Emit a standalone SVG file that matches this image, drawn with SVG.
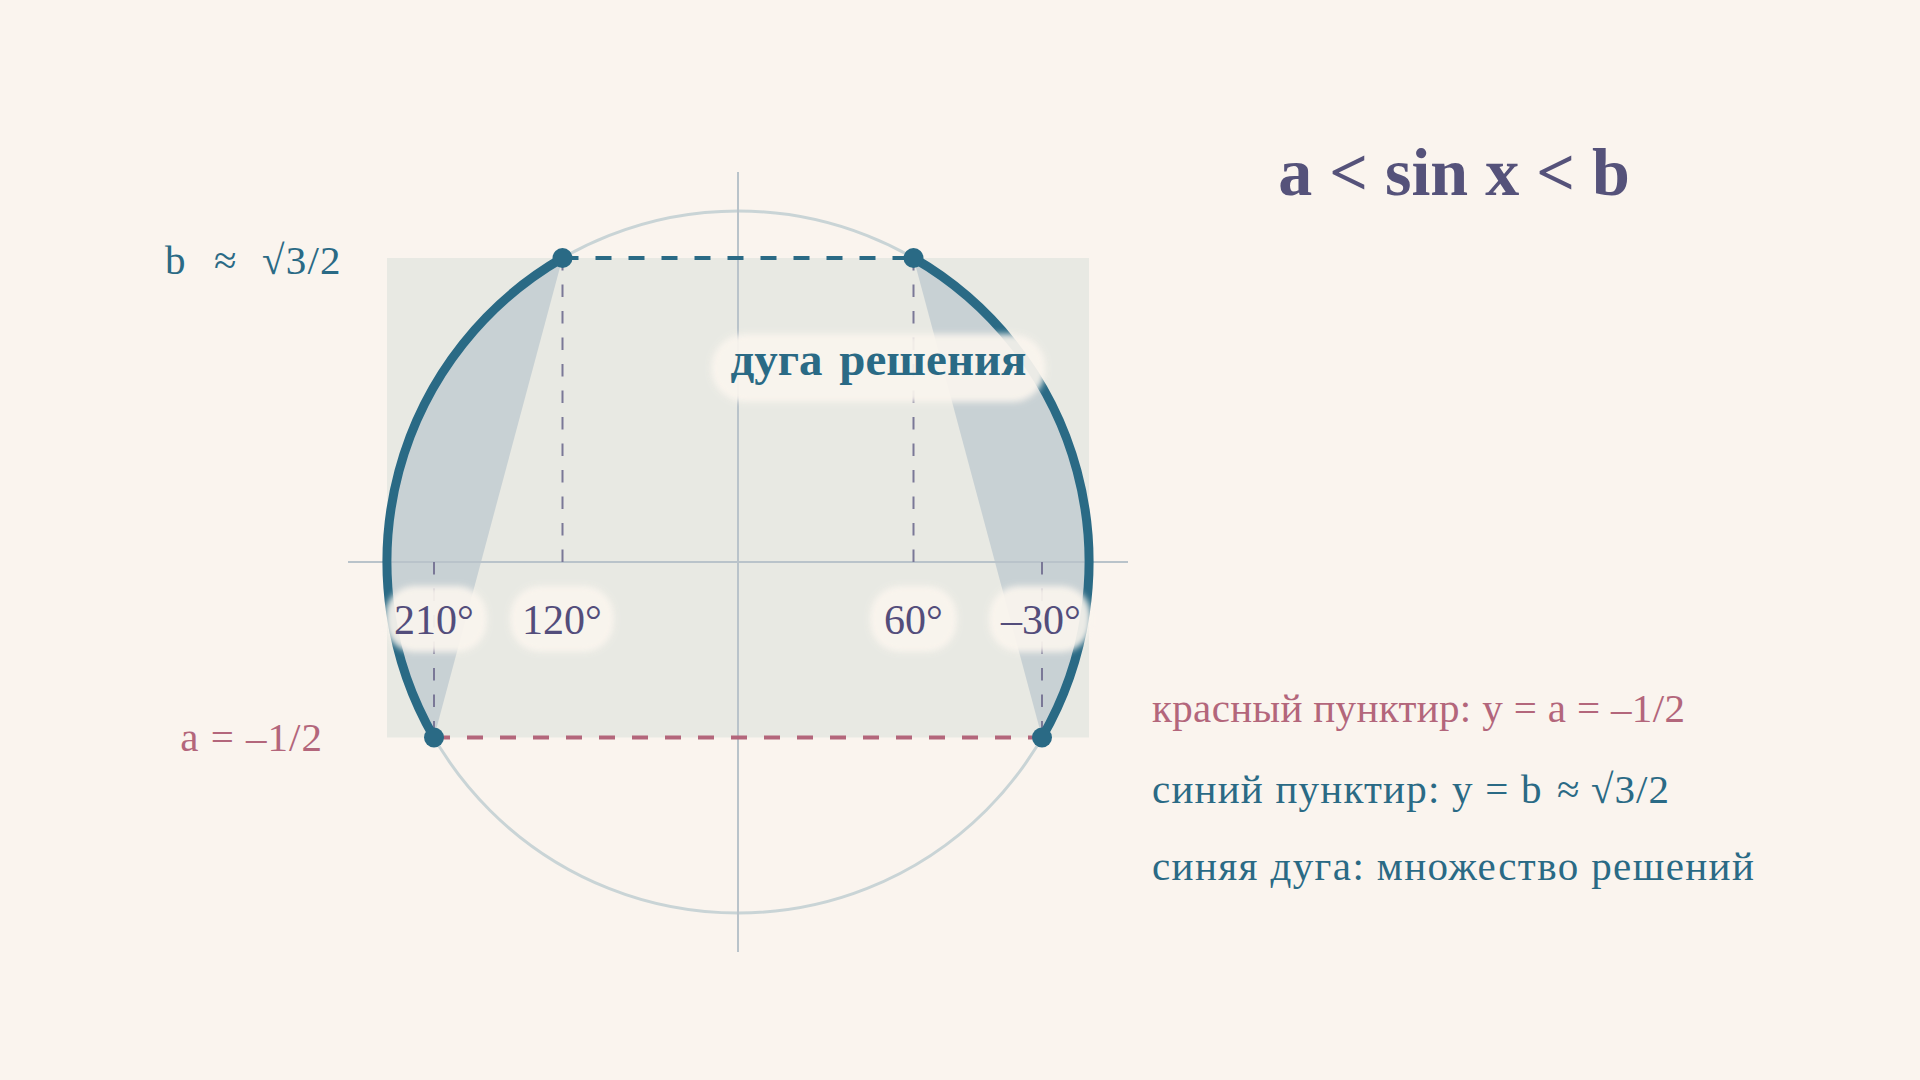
<svg xmlns="http://www.w3.org/2000/svg" width="1920" height="1080" viewBox="0 0 1920 1080">
  <style>
    .serif { font-family: "Liberation Serif", "DejaVu Serif", serif; }
    .lbl { font-family: "Liberation Serif", "DejaVu Serif", serif; font-size: 41px; }
    .deg { font-family: "Liberation Serif", "DejaVu Serif", serif; font-size: 42px; fill: #534D7B; text-anchor: middle; }
    .blue { fill: #2A6A85; }
    .red { fill: #B3667B; }
    .pill { fill: #FAF5EE; opacity: 0.93; }
    .vdash { stroke: #7A7897; stroke-width: 2; stroke-dasharray: 12.5 14; fill: none; }
    .dot { fill: #2A6A85; }
  </style>
  <defs>
    <filter id="soft" x="-20%" y="-40%" width="140%" height="180%">
      <feGaussianBlur stdDeviation="3"/>
    </filter>
  </defs>

  <rect x="0" y="0" width="1920" height="1080" fill="#FAF4EE"/>

  <g id="band">
    <rect x="387" y="258" width="702" height="479.5" fill="#E8E9E3"/>
    <path d="M 562.5 258 A 351 351 0 0 0 434 737.5 Z" fill="#C8D1D4"/>
    <path d="M 913.5 258 A 351 351 0 0 1 1042 737.5 Z" fill="#C8D1D4"/>
  </g>

  <g id="circle">
    <circle cx="738" cy="562" r="351" fill="none" stroke="#C9D4D6" stroke-width="3"/>
  </g>

  <g id="axes" stroke="#B9C3CA" stroke-width="2">
    <line x1="348" y1="562" x2="1128" y2="562"/>
    <line x1="738" y1="172" x2="738" y2="952"/>
  </g>

  <g id="connectors">
    <line class="vdash" x1="562.5" y1="258" x2="562.5" y2="562"/>
    <line class="vdash" x1="913.5" y1="258" x2="913.5" y2="562"/>
    <line class="vdash" x1="434" y1="562" x2="434" y2="737.5"/>
    <line class="vdash" x1="1042" y1="562" x2="1042" y2="737.5"/>
    <line x1="562.5" y1="258" x2="913.5" y2="258" stroke="#2A6A85" stroke-width="4" stroke-dasharray="16 17"/>
    <line x1="434" y1="737.5" x2="1042" y2="737.5" stroke="#B3667B" stroke-width="4" stroke-dasharray="16 17"/>
    <path d="M 562.5 258 A 351 351 0 0 0 434 737.5" fill="none" stroke="#2A6A85" stroke-width="9" stroke-linecap="round"/>
    <path d="M 913.5 258 A 351 351 0 0 1 1042 737.5" fill="none" stroke="#2A6A85" stroke-width="9" stroke-linecap="round"/>
  </g>

  <g id="points">
    <circle class="dot" cx="562.5" cy="258" r="10"/>
    <circle class="dot" cx="913.5" cy="258" r="10"/>
    <circle class="dot" cx="434" cy="737.5" r="10"/>
    <circle class="dot" cx="1042" cy="737.5" r="10"/>
  </g>

  <g id="label-210">
    <rect class="pill" x="385" y="586" width="102" height="66" rx="30" filter="url(#soft)"/>
    <text class="deg" x="434" y="634">210°</text>
  </g>
  <g id="label-120">
    <rect class="pill" x="510" y="586" width="104" height="66" rx="30" filter="url(#soft)"/>
    <text class="deg" x="562" y="634">120°</text>
  </g>
  <g id="label-60">
    <rect class="pill" x="870" y="586" width="87" height="66" rx="30" filter="url(#soft)"/>
    <text class="deg" x="913.5" y="634">60°</text>
  </g>
  <g id="label-m30">
    <rect class="pill" x="989" y="586" width="102" height="66" rx="30" filter="url(#soft)"/>
    <text class="deg" x="1041" y="634">–30°</text>
  </g>

  <g id="label-arc">
    <rect class="pill" x="711" y="334" width="335" height="68" rx="34" filter="url(#soft)"/>
    <text class="serif blue" x="878.5" y="375" font-size="47" font-weight="bold" text-anchor="middle" word-spacing="5">дуга решения</text>
  </g>

  <g id="label-b">
    <text class="lbl blue" y="274"><tspan x="165">b</tspan><tspan x="214">≈</tspan><tspan x="262" letter-spacing="1.2">√3/2</tspan></text>
  </g>
  <g id="label-a">
    <text class="lbl red" x="323" y="751" text-anchor="end" letter-spacing="1">a = –1/2</text>
  </g>

  <g id="title">
    <text class="serif" x="1454" y="195" font-size="68" font-weight="bold" fill="#55527A" text-anchor="middle">a &lt; sin x &lt; b</text>
  </g>

  <g id="legend">
    <text class="lbl red" x="1152" y="722" letter-spacing="0.35">красный пунктир: y = a = –1/2</text>
    <text class="lbl blue" y="803"><tspan x="1152" letter-spacing="1.2">синий пунктир: y = b</tspan><tspan x="1557">≈</tspan><tspan x="1591" letter-spacing="1">√3/2</tspan></text>
    <text class="lbl blue" x="1152" y="880" letter-spacing="1.4">синяя дуга: множество решений</text>
  </g>
</svg>
